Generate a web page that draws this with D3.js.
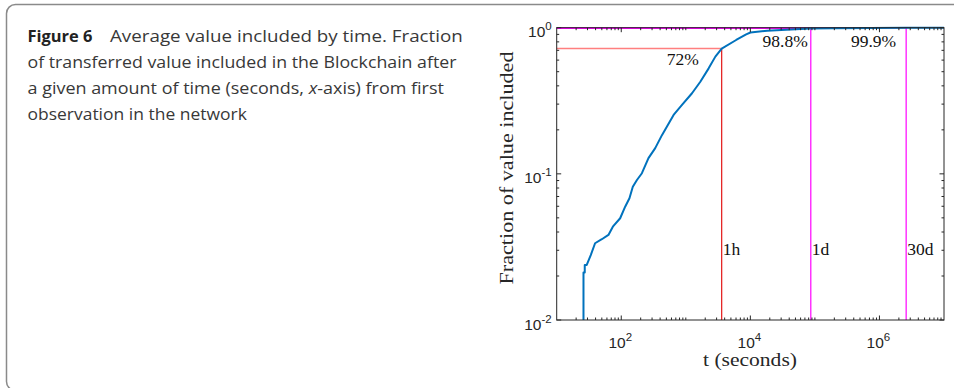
<!DOCTYPE html>
<html>
<head>
<meta charset="utf-8">
<script src="https://cdn.jsdelivr.net/npm/d3@7"></script>
<style>
body { margin: 0; background: #fff; }
svg { display: block; }
</style>
</head>
<body>
<div id="chart"></div>
<script>
// time (s) since first observation, fraction of value included
var times = [26, 26, 27.2, 27.2, 29.2, 33.7, 39.3, 50, 63.3, 74.1, 96.2, 115, 134, 151, 175, 209, 264, 336, 427, 647, 873, 1248, 1679, 2260, 2871, 3600, 6030, 8610, 10040, 18240, 60000, 86400, 195000, 2592000, 1e7];
var fractions = [0.01, 0.0211, 0.0211, 0.0238, 0.0238, 0.0278, 0.0335, 0.0357, 0.0382, 0.0435, 0.0497, 0.0596, 0.068, 0.0817, 0.0908, 0.101, 0.128, 0.150, 0.184, 0.253, 0.296, 0.356, 0.427, 0.527, 0.634, 0.72, 0.824, 0.90, 0.927, 0.954, 0.98, 0.988, 0.993, 0.999, 1.0];

var markerTimes = [3600, 86400, 2592000];
var markerLabels = ['1h', '1d', '30d'];
var levelValues = [0.72, 0.988, 0.999];
var levelLabels = ['72%', '98.8%', '99.9%'];

var xTickValues = [1e2, 1e4, 1e6];
var xTickExp = ['2', '4', '6'];
var yTickValues = [1e-2, 1e-1, 1];
var yTickExp = ['-2', '-1', '0'];

var captionBold = 'Figure 6';
var captionLines = [
	'Average value included by time. Fraction',
	'of transferred value included in the Blockchain after',
	'a given amount of time (seconds, x-axis) from first',
	'observation in the network'
];

var W = 954, H = 388;
var plot = {left: 556.7, right: 944, top: 27.7, bottom: 320};
var axisColor = '#262626';

var svg = d3.select('#chart').append('svg')
	.attr('width', W).attr('height', H);

// stretch a text horizontally so it spans the given width
function fitWidth(sel, width, ax, pre) {
	var w = sel.node().getBBox().width;
	var s = width / w;
	sel.attr('transform', (pre || '') + 'translate(' + ax + ',0) scale(' + s + ',1) translate(' + (-ax) + ',0)');
}

// panel frame
svg.append('rect')
	.attr('x', 6.5).attr('y', 4.5)
	.attr('width', 1000).attr('height', 386)
	.attr('rx', 9)
	.attr('fill', 'none')
	.attr('stroke', '#8a8a8a')
	.attr('stroke-width', 1.5);

// caption
var cap = svg.append('g')
	.attr('font-family', '"Open Sans", "Noto Sans", sans-serif')
	.attr('font-size', 16)
	.attr('fill', '#383838');
var capX = 27.5;
var c0 = cap.append('text').attr('x', capX).attr('y', 42)
	.attr('font-weight', 'bold').attr('fill', '#222').text(captionBold);
fitWidth(c0, 65, capX);
var c1 = cap.append('text').attr('x', 110).attr('y', 42).text(captionLines[0]);
fitWidth(c1, 353, 110);
var c2 = cap.append('text').attr('x', capX).attr('y', 68).text(captionLines[1]);
fitWidth(c2, 430, capX);
var c3 = cap.append('text').attr('x', capX).attr('y', 94);
c3.append('tspan').text('a given amount of time (seconds, ');
c3.append('tspan').attr('font-style', 'italic').text('x');
c3.append('tspan').text('-axis) from first');
fitWidth(c3, 417, capX);
var c4 = cap.append('text').attr('x', capX).attr('y', 120).text(captionLines[3]);
fitWidth(c4, 220, capX);

var x = d3.scaleLog().domain([10, 1e7]).range([plot.left, plot.right]);
var y = d3.scaleLog().domain([0.01, 1]).range([plot.bottom, plot.top]);

var g = svg.append('g');

// reference lines
var salmon = '#ff7f7f', red = '#e00000', magenta = '#ff00ff';
g.append('line')
	.attr('x1', x(10)).attr('x2', x(markerTimes[0]))
	.attr('y1', y(levelValues[0])).attr('y2', y(levelValues[0]))
	.attr('stroke', salmon).attr('stroke-width', 1.6);
g.append('line')
	.attr('x1', x(markerTimes[0])).attr('x2', x(markerTimes[0]))
	.attr('y1', y(0.01)).attr('y2', y(levelValues[0]))
	.attr('stroke', red).attr('stroke-width', 1.1);
[1, 2].forEach(function(i) {
	g.append('line')
		.attr('x1', x(10)).attr('x2', x(markerTimes[i]))
		.attr('y1', y(levelValues[i])).attr('y2', y(levelValues[i]))
		.attr('stroke', magenta).attr('stroke-width', 1.2);
	g.append('line')
		.attr('x1', x(markerTimes[i])).attr('x2', x(markerTimes[i]))
		.attr('y1', y(0.01)).attr('y2', y(levelValues[i]))
		.attr('stroke', magenta).attr('stroke-width', 1.2);
});

// curve
var line = d3.line()
	.x(function(d) { return x(d[0]); })
	.y(function(d) { return y(d[1]); });
g.append('path')
	.datum(d3.zip(times, fractions))
	.attr('d', line)
	.attr('fill', 'none')
	.attr('stroke', '#0072bd')
	.attr('stroke-width', 2)
	.attr('stroke-linejoin', 'round');

// box
g.append('rect')
	.attr('x', plot.left).attr('y', plot.top)
	.attr('width', plot.right - plot.left).attr('height', plot.bottom - plot.top)
	.attr('fill', 'none').attr('stroke', axisColor).attr('stroke-width', 1);

// ticks (inward, on both sides)
var ticks = g.append('g').attr('stroke', axisColor).attr('stroke-width', 1);
var xMinor = [], yMinor = [];
for (var e = 1; e < 7; e++) {
	for (var k = 1; k < 10; k++) {
		var v = k * Math.pow(10, e);
		if (xTickValues.indexOf(v) < 0 && !(k === 1 && e === 1)) xMinor.push(v);
	}
}
for (var e2 = -2; e2 < 0; e2++) {
	for (var k2 = 2; k2 < 10; k2++) yMinor.push(k2 * Math.pow(10, e2));
}
function xTick(v, len) {
	ticks.append('line').attr('x1', x(v)).attr('x2', x(v)).attr('y1', plot.bottom).attr('y2', plot.bottom - len);
	ticks.append('line').attr('x1', x(v)).attr('x2', x(v)).attr('y1', plot.top).attr('y2', plot.top + len);
}
function yTick(v, len) {
	ticks.append('line').attr('y1', y(v)).attr('y2', y(v)).attr('x1', plot.left).attr('x2', plot.left + len);
	ticks.append('line').attr('y1', y(v)).attr('y2', y(v)).attr('x1', plot.right).attr('x2', plot.right - len);
}
xMinor.forEach(function(v) { xTick(v, 2.5); });
xTickValues.forEach(function(v) { xTick(v, 4.5); });
yMinor.forEach(function(v) { yTick(v, 2.5); });
yTickValues.forEach(function(v) { yTick(v, 4.5); });

// tick labels
var tickFont = '"Liberation Sans", Arial, sans-serif';
xTickValues.forEach(function(v, i) {
	var t = svg.append('text')
		.attr('x', x(v) - 1).attr('y', plot.bottom + 27.5)
		.attr('text-anchor', 'middle')
		.attr('font-family', tickFont).attr('font-size', 15.5)
		.attr('fill', axisColor);
	t.append('tspan').text('10');
	t.append('tspan').attr('dy', -7).attr('font-size', 11.5).text(xTickExp[i]);
});
yTickValues.forEach(function(v, i) {
	var t = svg.append('text')
		.attr('x', plot.left - 5).attr('y', y(v) + 9.5)
		.attr('text-anchor', 'end')
		.attr('font-family', tickFont).attr('font-size', 15.5)
		.attr('fill', axisColor);
	t.append('tspan').text('10');
	t.append('tspan').attr('dy', -7).attr('font-size', 11.5).text(yTickExp[i]);
});

// annotations
var serif = '"Liberation Serif", "DejaVu Serif", serif';
var ann = svg.append('g').attr('font-family', serif).attr('font-size', 17.5).attr('fill', '#111');
ann.append('text').attr('x', x(markerTimes[0]) - 23).attr('y', y(levelValues[0]) + 16.5)
	.attr('text-anchor', 'end').text(levelLabels[0]);
ann.append('text').attr('x', x(markerTimes[1]) - 3).attr('y', plot.top + 19.5)
	.attr('text-anchor', 'end').text(levelLabels[1]);
ann.append('text').attr('x', x(markerTimes[2]) - 10).attr('y', plot.top + 19.5)
	.attr('text-anchor', 'end').text(levelLabels[2]);
markerTimes.forEach(function(t, i) {
	ann.append('text').attr('x', x(t) + 1).attr('y', 255).text(markerLabels[i]);
});

// axis titles
var xTitle = svg.append('text')
	.attr('x', 750).attr('y', 366)
	.attr('text-anchor', 'middle')
	.attr('font-family', serif).attr('font-size', 18.5).attr('fill', axisColor)
	.text('t (seconds)');
fitWidth(xTitle, 94, 750);
var yTitle = svg.append('text')
	.attr('x', 0).attr('y', 0)
	.attr('text-anchor', 'middle')
	.attr('font-family', serif).attr('font-size', 18.5).attr('fill', axisColor)
	.text('Fraction of value included');
fitWidth(yTitle, 234, 0, 'translate(512.5,168) rotate(-90) ');
</script>
</body>
</html>
